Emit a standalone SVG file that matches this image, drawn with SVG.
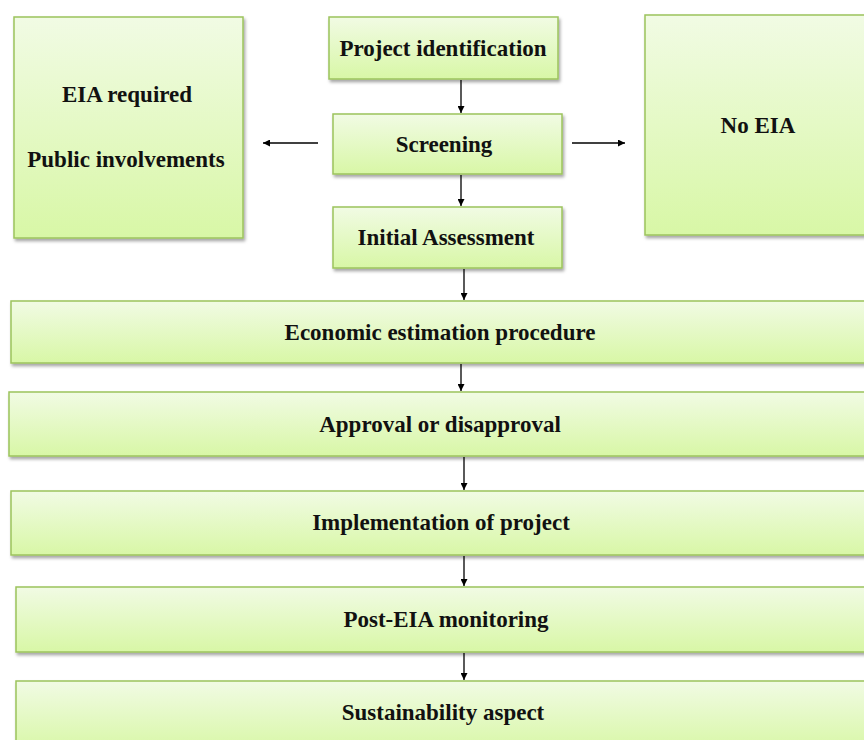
<svg xmlns="http://www.w3.org/2000/svg" width="864" height="740" viewBox="0 0 864 740">
<defs>
<linearGradient id="g" x1="0" y1="0" x2="0" y2="1">
<stop offset="0" stop-color="#f1fbe4"/>
<stop offset="1" stop-color="#d8f7a6"/>
</linearGradient>
<filter id="sh" x="-5%" y="-5%" width="110%" height="120%">
<feDropShadow dx="1.5" dy="2.5" stdDeviation="1.5" flood-color="#000" flood-opacity="0.35"/>
</filter>
<marker id="ah" viewBox="0 0 10 10" refX="10" refY="5" markerWidth="7" markerHeight="7" markerUnits="userSpaceOnUse" orient="auto">
<path d="M0,0 L10,5 L0,10 z" fill="#000"/>
</marker>
<style>
.box{fill:url(#g);stroke:#9cc35c;stroke-width:1.5;filter:url(#sh)}
.t{font-family:"Liberation Serif","Times New Roman",serif;font-weight:bold;font-size:23px;fill:#111;text-anchor:middle}
.c{stroke:#000;stroke-width:1.3;fill:none;marker-end:url(#ah)}
</style>
</defs>
<rect width="864" height="740" fill="#fff"/>
<g id="eia-required">
<rect class="box" x="14" y="17" width="229" height="221"/>
<text class="t" x="127" y="102">EIA required</text>
<text class="t" x="126" y="167">Public involvements</text>
</g>
<g id="project-identification">
<rect class="box" x="329" y="17" width="229" height="62"/>
<text class="t" x="443" y="56">Project identification</text>
</g>
<g id="screening">
<rect class="box" x="333" y="114" width="229" height="60"/>
<text class="t" x="444" y="152">Screening</text>
</g>
<g id="no-eia">
<rect class="box" x="645" y="15" width="230" height="220"/>
<text class="t" x="758" y="133">No EIA</text>
</g>
<g id="initial-assessment">
<rect class="box" x="333" y="207" width="229" height="61"/>
<text class="t" x="446" y="245">Initial Assessment</text>
</g>
<g id="economic">
<rect class="box" x="11" y="301" width="862" height="62"/>
<text class="t" x="440" y="340">Economic estimation procedure</text>
</g>
<g id="approval">
<rect class="box" x="9" y="392" width="864" height="64"/>
<text class="t" x="440" y="432">Approval or disapproval</text>
</g>
<g id="implementation">
<rect class="box" x="11" y="491" width="862" height="64"/>
<text class="t" x="441" y="530">Implementation of project</text>
</g>
<g id="post-eia">
<rect class="box" x="16" y="587" width="857" height="65"/>
<text class="t" x="446" y="627">Post-EIA monitoring</text>
</g>
<g id="sustainability">
<rect class="box" x="16" y="681" width="857" height="70"/>
<text class="t" x="443" y="720">Sustainability aspect</text>
</g>
<g id="connectors">
<line class="c" x1="461" y1="80" x2="461" y2="113"/>
<line class="c" x1="461" y1="175" x2="461" y2="206"/>
<line class="c" x1="464" y1="269" x2="464" y2="300"/>
<line class="c" x1="461" y1="364" x2="461" y2="391"/>
<line class="c" x1="464" y1="457" x2="464" y2="490"/>
<line class="c" x1="464" y1="556" x2="464" y2="586"/>
<line class="c" x1="464" y1="653" x2="464" y2="680"/>
<line class="c" x1="318" y1="143" x2="263" y2="143"/>
<line class="c" x1="572" y1="143" x2="625" y2="143"/>
</g>
</svg>
